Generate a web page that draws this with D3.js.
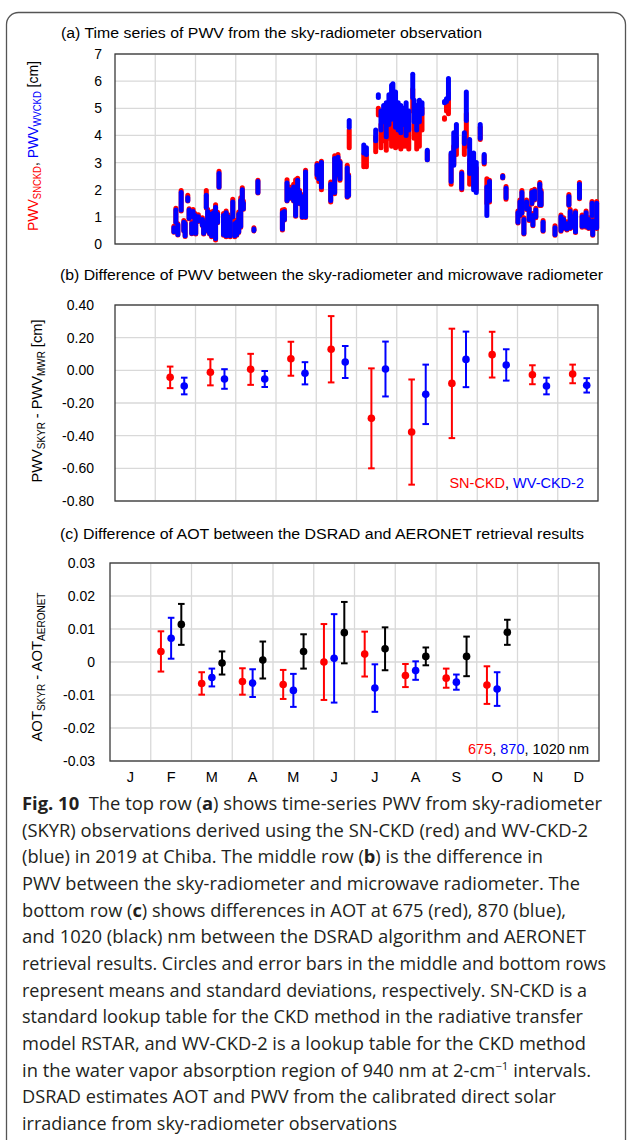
<!DOCTYPE html>
<html><head><meta charset="utf-8">
<script src="https://cdn.jsdelivr.net/npm/d3@7"></script>
<style>
html,body{margin:0;padding:0;background:#fff;}
svg{display:block;}
</style></head><body>
<svg id="fig" width="627" height="1140"></svg>
<script>
// ---------- data ----------
const monthLabels = ["J","F","M","A","M","J","J","A","S","O","N","D"];

// (a) daily PWV spread [day of year, min, max] in cm, SN-CKD (red) and WV-CKD-2 (blue)
const pwvSN = [
 [44.5,0.43,0.65],[46,0.78,1.32],[47.5,0.33,0.75],[50,1.22,1.97],[52,0.48,0.87],[53,0.28,0.8],
 [55,1.58,1.8],[56,0.93,1.3],[58,0.38,0.8],[59,0.98,1.27],[60.5,0.78,1.12],[61,0.37,0.75],
 [63,0.83,1.08],[66,0.68,0.97],[67,0.37,0.87],[69,1.33,1.97],[70,0.47,1.28],[71.5,0.37,1.17],
 [73,0.27,1.18],[74.5,0.32,1.22],[76,0.15,1.45],[77.5,0.78,1.17],[78.6,2.08,2.68],[82,0.32,1.12],
 [84,0.27,1.22],[85.5,0.47,1.08],[87,0.27,0.97],[89,0.97,1.65],[90.5,0.27,0.82],[92,0.32,0.88],
 [93.5,0.42,1.18],[95,0.62,1.7],[96.2,1.32,2.07],[97,1.28,1.58],[105,0.48,0.6],[108,1.88,2.35],
 [126.5,0.52,1.25],[128,0.88,1.27],[130,1.58,2.37],[132,1.68,2.1],[135,1.58,2.2],[136.5,1.02,2.37],
 [138,1.98,2.42],[139.5,1.48,1.97],[141.5,0.98,1.68],[142.5,1.28,1.82],[144,0.98,2.72],
 [152.7,2.45,2.97],[154,2.3,2.85],[156,2.0,3.05],[163,1.55,2.28],[166,1.85,3.25],[167,2.5,3.18],
 [168.5,2.8,3.3],[170,2.35,3.05],[175.5,1.72,2.9],[176.5,1.78,2.55],[177,3.55,4.2],
 [188,2.85,3.3],[190,2.85,3.25],[197,3.4,3.95],[199,4.75,5.0],[201,3.55,4.4],[203,3.8,4.8],
 [205,3.45,5.0],[207,3.9,5.0],[209,3.6,5.05],[210,3.7,5.0],[212,3.55,4.7],[214,3.6,4.9],
 [216,3.5,4.4],[218,3.6,4.5],[220,3.6,4.8],[222,3.5,4.4],[225,4.9,5.7],[226,3.9,5.0],
 [228,3.5,4.5],[230,3.6,4.8],[232,4.2,5.0],[236,3.1,3.4],
 [249,4.6,4.65],[250.5,4.9,5.1],[252,4.8,5.55],[254,2.2,3.3],[256,2.95,3.6],[258,3.3,3.9],
 [262,2.0,2.65],[264,3.3,3.95],[265.5,3.6,4.8],[268,2.2,3.1],[271,2.15,3.0],[273,2.0,2.8],
 [276,3.85,4.3],[279,2.95,3.25],[281,1.5,2.4],[283,1.55,2.35],[293,2.43,2.52],[295.5,1.65,2.12],
 [304.5,0.77,1.22],[306,1.04,1.62],[307.5,1.12,1.97],[309,0.37,0.97],[311,1.27,1.62],[313,0.87,1.37],
 [315,1.47,1.97],[315.8,0.67,1.12],[317,1.62,2.02],[318,0.97,1.32],[321,1.42,2.27],[322,1.42,1.97],
 [323.5,0.47,0.87],[332.5,0.32,0.67],[337,0.47,1.07],[339,0.57,0.97],[341.5,0.52,0.82],[343,1.42,1.82],
 [344,0.57,1.27],[346,0.62,1.07],[348,0.42,1.22],[351,1.67,2.27],[353,0.62,1.07],[356,0.62,1.22],
 [358,0.57,0.97],[360.5,1.02,1.57],[361,0.32,0.92],[364,0.57,1.57]
];
const pwvWV = [
 [44.5,0.45,0.6],[46,0.8,1.25],[47.5,0.35,0.7],[50,1.25,1.9],[52,0.5,0.8],[53,0.3,0.75],
 [55,1.6,1.7],[56,0.95,1.25],[58,0.4,0.75],[59,1.0,1.2],[60.5,0.8,1.05],[61,0.4,0.7],
 [63,0.85,1.0],[66,0.7,0.9],[67,0.4,0.8],[69,1.35,1.8],[70,0.5,1.2],[71.5,0.4,1.1],
 [73,0.3,1.1],[74.5,0.35,1.15],[76,0.2,1.35],[77.5,0.8,1.1],[78.6,2.1,2.6],[82,0.35,1.05],
 [84,0.3,1.15],[85.5,0.5,1.0],[87,0.3,0.9],[89,1.0,1.55],[90.5,0.3,0.75],[92,0.35,0.8],
 [93.5,0.45,1.1],[95,0.65,1.6],[96.2,1.35,2.0],[97,1.3,1.5],[105,0.5,0.55],[108,1.9,2.3],
 [126.5,0.55,1.15],[128,0.9,1.2],[130,1.6,2.25],[132,1.7,2.0],[135,1.6,2.1],[136.5,1.05,2.0],
 [138,2.0,2.35],[139.5,1.5,1.9],[141.5,1.0,1.6],[142.5,1.3,1.75],[144,1.0,2.65],
 [152.7,2.55,2.9],[154,2.4,2.8],[156,2.1,3.0],[163,1.6,2.2],[166,1.9,3.15],[167,2.55,3.1],
 [168.5,2.85,3.2],[170,2.4,3.0],[175.5,1.75,2.8],[176.5,1.8,2.5],[177,4.3,4.55],
 [188,3.35,3.65],[190,3.3,3.55],[197,3.8,4.2],[199,5.4,5.5],[201,4.2,4.9],[203,4.5,5.1],
 [205,3.95,5.2],[207,4.4,5.5],[209,4.6,5.85],[210,4.8,5.9],[212,4.3,5.6],[214,4.2,5.2],
 [216,4.1,5.1],[218,4.4,5.0],[220,4.0,5.2],[222,4.2,4.9],[225,5.4,6.25],[226,4.5,5.3],
 [228,4.2,5.1],[230,4.5,5.3],[232,4.8,5.2],[236,3.1,3.45],
 [249,5.2,5.25],[250.5,5.25,5.35],[252,5.35,6.1],[254,2.3,3.35],[256,2.9,4.1],[258,3.6,4.4],
 [262,2.05,2.6],[264,3.7,4.1],[265.5,4.55,5.6],[268,2.6,3.85],[271,2.0,3.35],[273,1.9,3.0],
 [276,3.9,4.4],[279,3.0,3.3],[281,1.05,2.1],[283,1.6,2.3],[293,2.45,2.5],[295.5,1.7,2.05],
 [304.5,0.8,1.15],[306,1.07,1.55],[307.5,1.15,1.9],[309,0.4,0.9],[311,1.3,1.55],[313,0.9,1.3],
 [315,1.5,1.9],[315.8,0.7,1.05],[317,1.65,1.95],[318,1.0,1.25],[321,1.45,2.2],[322,1.45,1.9],
 [323.5,0.5,0.8],[332.5,0.35,0.6],[337,0.5,1.0],[339,0.6,0.9],[341.5,0.55,0.75],[343,1.45,1.75],
 [344,0.6,1.2],[346,0.65,1.0],[348,0.45,1.15],[351,1.7,2.2],[353,0.65,1.0],[356,0.65,1.15],
 [358,0.6,0.9],[360.5,1.05,1.5],[361,0.35,0.85],[364,0.6,1.5]
];
const pwvTicks = [0,1,2,3,4,5,6,7];

// (b) monthly PWV difference, mean and standard deviation (cm), Feb..Dec
const diffMonths = [1,2,3,4,5,6,7,8,9,10,11];
const diffSN     = [-0.043,-0.012,0.006,0.071,0.129,-0.294,-0.378,-0.080,0.096,-0.027,-0.022];
const diffSNsd   = [0.066,0.080,0.095,0.104,0.203,0.306,0.322,0.335,0.140,0.058,0.057];
const diffWV     = [-0.096,-0.053,-0.053,-0.018,0.051,0.008,-0.147,0.067,0.033,-0.096,-0.092];
const diffWVsd   = [0.051,0.060,0.049,0.068,0.098,0.168,0.182,0.170,0.096,0.051,0.044];
const diffTicks  = [0.4,0.2,0,-0.2,-0.4,-0.6,-0.8];

// (c) monthly AOT difference, mean and standard deviation, Feb..Oct
const aotMonths  = [1,2,3,4,5,6,7,8,9];
const aot675     = [0.0032,-0.0065,-0.0059,-0.0068,0.0000,0.0024,-0.0041,-0.0049,-0.0070];
const aot675sd   = [0.0061,0.0034,0.0040,0.0044,0.0115,0.0068,0.0035,0.0029,0.0057];
const aot870     = [0.0072,-0.0047,-0.0064,-0.0086,0.0011,-0.0079,-0.0026,-0.0061,-0.0082];
const aot870sd   = [0.0062,0.0027,0.0042,0.0050,0.0134,0.0072,0.0028,0.0023,0.0051];
const aot1020    = [0.0114,-0.0003,0.0006,0.0032,0.0089,0.0040,0.0017,0.0017,0.0090];
const aot1020sd  = [0.0062,0.0035,0.0056,0.0052,0.0093,0.0065,0.0027,0.0060,0.0038];
const aotTicks   = [0.03,0.02,0.01,0,-0.01,-0.02,-0.03];

// ---------- drawing ----------
const RED = "#ff0000", BLUE = "#0000ff", BLACK = "#000000";
const GRID = "#d9d9d9";
const AX_FONT = "'Liberation Sans', Arial, sans-serif";
const svg = d3.select("#fig");

// rounded outer frame
svg.append("rect").attr("x",6.5).attr("y",12.5).attr("width",619).attr("height",1170)
  .attr("rx",12).attr("fill","none").attr("stroke","#555").attr("stroke-width",1.3);

function hyphen(s){ return s.replace("\u2212","-"); }

function panelFrame(x, y, ticks, fmt, labelX, nMonths){
  const g = svg.append("g");
  const [x0,x1] = x.range(), [y0,y1] = y.range();
  // horizontal grid
  g.selectAll("line.hg").data(ticks).join("line")
    .attr("x1",x0).attr("x2",x1).attr("y1",d=>y(d)).attr("y2",d=>y(d))
    .attr("stroke",GRID).attr("stroke-width",1.3);
  // monthly vertical grid
  g.selectAll("line.vg").data(d3.range(1,nMonths)).join("line")
    .attr("x1",d=>x(d)).attr("x2",d=>x(d)).attr("y1",y0).attr("y2",y1)
    .attr("stroke",GRID).attr("stroke-width",1.3);
  // frame
  g.append("rect").attr("x",x0).attr("y",y1).attr("width",x1-x0).attr("height",y0-y1)
    .attr("fill","none").attr("stroke","#3a3a3a").attr("stroke-width",1.3);
  // y tick labels
  g.selectAll("text.yt").data(ticks).join("text")
    .attr("x",labelX).attr("y",d=>y(d)).attr("dy","0.36em")
    .attr("text-anchor","end").attr("font-family",AX_FONT).attr("font-size",14)
    .attr("fill","#000").text(d=>hyphen(fmt(d)));
  return g;
}

function title(txt, x, y, len){
  svg.append("text").attr("x",x).attr("y",y).attr("font-family",AX_FONT).attr("font-size",14)
    .attr("textLength",len).attr("lengthAdjust","spacingAndGlyphs").text(txt);
}

function yTitle(cx, cy, len, parts){
  const t = svg.append("text").attr("transform",`translate(${cx},${cy}) rotate(-90)`)
    .attr("text-anchor","middle").attr("font-family",AX_FONT).attr("font-size",15.5)
    .attr("textLength",len).attr("lengthAdjust","spacingAndGlyphs");
  parts.forEach(p=>{
    const s = t.append("tspan").attr("fill",p.c||"#000").text(p.t);
    if(p.sub){ s.attr("font-size",10.5).attr("dy",3); }
    if(p.back){ s.attr("dy",-3); }
  });
}

// ----- (a) time series -----
title("(a) Time series of PWV from the sky-radiometer observation", 61, 38, 421);
const xa = d3.scaleLinear().domain([0,365]).range([115,598]);
const ya = d3.scaleLinear().domain([0,7]).range([244,54]);
const xaMonth = d3.scaleLinear().domain([0,12]).range([115,598]);
panelFrame(xaMonth, ya, pwvTicks, d3.format("d"), 102, 12);
const gA = svg.append("g");
function spread(data, col){
  gA.selectAll(null).data(data).join("line")
    .attr("x1",d=>xa(d[0])).attr("x2",d=>xa(d[0]))
    .attr("y1",d=>ya(d[1])).attr("y2",d=>ya(d[2]))
    .attr("stroke",col).attr("stroke-width",5).attr("stroke-linecap","round");
}
spread(pwvSN, RED);
spread(pwvWV, BLUE);
yTitle(38, 146, 170, [
  {t:"PWV",c:RED},{t:"SNCKD",c:RED,sub:true},{t:", ",c:"#000",back:true},
  {t:"PWV",c:BLUE},{t:"WVCKD",c:BLUE,sub:true},{t:" [cm]",c:"#000",back:true}
]);

// error bar series helper
function errSeries(g, x, y, months, offset, mean, sd, col){
  const d = months.map((m,i)=>({x:m+offset, m:mean[i], s:sd[i]}));
  g.selectAll(null).data(d).join("line")
    .attr("x1",e=>x(e.x)).attr("x2",e=>x(e.x))
    .attr("y1",e=>y(e.m+e.s)).attr("y2",e=>y(e.m-e.s))
    .attr("stroke",col).attr("stroke-width",2);
  [1,-1].forEach(k=>{
    g.selectAll(null).data(d).join("line")
      .attr("x1",e=>x(e.x)-3.3).attr("x2",e=>x(e.x)+3.3)
      .attr("y1",e=>y(e.m+k*e.s)).attr("y2",e=>y(e.m+k*e.s))
      .attr("stroke",col).attr("stroke-width",2);
  });
  g.selectAll(null).data(d).join("circle")
    .attr("cx",e=>x(e.x)).attr("cy",e=>y(e.m)).attr("r",3.8).attr("fill",col);
}

// ----- (b) PWV difference -----
title("(b) Difference of PWV between the sky-radiometer and microwave radiometer", 60, 280, 543);
const xb = d3.scaleLinear().domain([0,12]).range([115,598]);
const yb = d3.scaleLinear().domain([-0.8,0.4]).range([501,305]);
panelFrame(xb, yb, diffTicks, d3.format(".2f"), 94, 12);
const gB = svg.append("g");
errSeries(gB, xb, yb, diffMonths, 0.37, diffSN, diffSNsd, RED);
errSeries(gB, xb, yb, diffMonths, 0.72, diffWV, diffWVsd, BLUE);
yTitle(42, 401, 163, [
  {t:"PWV"},{t:"SKYR",sub:true},{t:" - PWV",back:true},{t:"MWR",sub:true},{t:" [cm]",back:true}
]);
const legB = svg.append("text").attr("x",584).attr("y",488).attr("text-anchor","end")
  .attr("font-family",AX_FONT).attr("font-size",14.5);
legB.append("tspan").attr("fill",RED).text("SN-CKD");
legB.append("tspan").attr("fill","#000").text(", ");
legB.append("tspan").attr("fill",BLUE).text("WV-CKD-2");

// ----- (c) AOT difference -----
title("(c) Difference of AOT between the DSRAD and AERONET retrieval results", 60, 539, 524);
const xc = d3.scaleLinear().domain([0,12]).range([110,599]);
const yc = d3.scaleLinear().domain([-0.03,0.03]).range([761,563]);
panelFrame(xc, yc, aotTicks, d=> d===0 ? "0" : d3.format(".2f")(d), 95, 12);
const gC = svg.append("g");
errSeries(gC, xc, yc, aotMonths, 0.25, aot675, aot675sd, RED);
errSeries(gC, xc, yc, aotMonths, 0.50, aot870, aot870sd, BLUE);
errSeries(gC, xc, yc, aotMonths, 0.75, aot1020, aot1020sd, BLACK);
yTitle(42, 667, 149, [
  {t:"AOT"},{t:"SKYR",sub:true},{t:" - AOT",back:true},{t:"AERONET",sub:true}
]);
const legC = svg.append("text").attr("x",589).attr("y",754).attr("text-anchor","end")
  .attr("font-family",AX_FONT).attr("font-size",14.5);
legC.append("tspan").attr("fill",RED).text("675");
legC.append("tspan").attr("fill","#000").text(", ");
legC.append("tspan").attr("fill",BLUE).text("870");
legC.append("tspan").attr("fill","#000").text(", 1020 nm");

// month labels under (c)
svg.selectAll("text.mon").data(monthLabels).join("text")
  .attr("x",(d,i)=>xc(i+0.5)).attr("y",782).attr("text-anchor","middle")
  .attr("font-family",AX_FONT).attr("font-size",14.5).text(d=>d);

// ----- caption -----
const CAP_FONT = "'Open Sans', 'Noto Sans', sans-serif";
const capLines = [
  {w:580, parts:[{t:"Fig. 10",b:1},{t:"\u00a0\u00a0The top row ("},{t:"a",b:1},{t:") shows time-series PWV from sky-radiometer"}]},
  {w:566, parts:[{t:"(SKYR) observations derived using the SN-CKD (red) and WV-CKD-2"}]},
  {w:521, parts:[{t:"(blue) in 2019 at Chiba. The middle row ("},{t:"b",b:1},{t:") is the difference in"}]},
  {w:558, parts:[{t:"PWV between the sky-radiometer and microwave radiometer. The"}]},
  {w:544, parts:[{t:"bottom row ("},{t:"c",b:1},{t:") shows differences in AOT at 675 (red), 870 (blue),"}]},
  {w:564, parts:[{t:"and 1020 (black) nm between the DSRAD algorithm and AERONET"}]},
  {w:584, parts:[{t:"retrieval results. Circles and error bars in the middle and bottom rows"}]},
  {w:565, parts:[{t:"represent means and standard deviations, respectively. SN-CKD is a"}]},
  {w:561, parts:[{t:"standard lookup table for the CKD method in the radiative transfer"}]},
  {w:564, parts:[{t:"model RSTAR, and WV-CKD-2 is a lookup table for the CKD method"}]},
  {w:569, parts:[{t:"in the water vapor absorption region of 940 nm at 2-cm"},{t:"\u22121",sup:1},{t:"\u00a0intervals."}]},
  {w:534, parts:[{t:"DSRAD estimates AOT and PWV from the calibrated direct solar"}]},
  {w:375, parts:[{t:"irradiance from sky-radiometer observations"}]}
];
capLines.forEach((ln,i)=>{
  const t = svg.append("text").attr("x",22).attr("y",810+i*26.67)
    .attr("font-family",CAP_FONT).attr("font-size",17.5).attr("fill","#231f20")
    .attr("textLength",ln.w).attr("lengthAdjust","spacingAndGlyphs");
  ln.parts.forEach(p=>{
    const s = t.append("tspan").text(p.t);
    if(p.b) s.attr("font-weight","bold");
    if(p.sup) s.attr("font-size",11).attr("dy",-7);
    else if(i===10 && p.t.startsWith("\u00a0")) s.attr("dy",7);
  });
});
</script>
</body></html>
